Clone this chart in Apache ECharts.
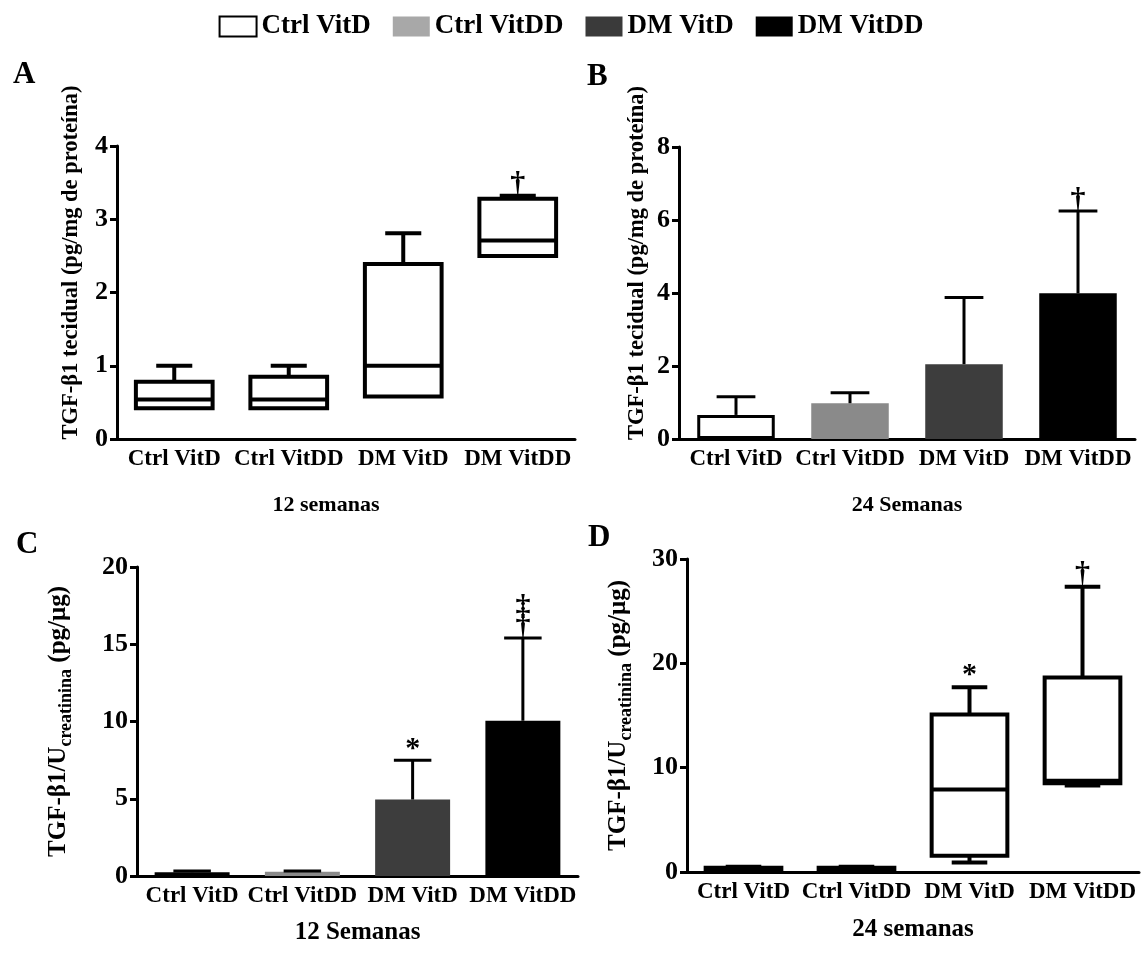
<!DOCTYPE html>
<html>
<head>
<meta charset="utf-8">
<script src="https://cdn.jsdelivr.net/npm/echarts@6/dist/echarts.min.js"></script>
<style>
  html, body { margin: 0; padding: 0; background: #fff; }
  #chart { width: 1142px; height: 954px; }
</style>
</head>
<body>
<div id="chart"></div>
<script>
// grupos
const categories = ['Ctrl VitD', 'Ctrl VitDD', 'DM VitD', 'DM VitDD'];
const groupColors = ['#ffffff', '#8a8a8a', '#3d3d3d', '#000000'];
const legendColors = ['#ffffff', '#a8a8a8', '#3a3a3a', '#000000'];

// A - TGF-b1 tecidual, 12 semanas: [min, Q1, mediana, Q3, max]
const boxA = [
  [0.42, 0.42, 0.54, 0.78, 1.00],
  [0.42, 0.42, 0.54, 0.85, 1.00],
  [0.58, 0.58, 1.00, 2.39, 2.81],
  [2.50, 2.50, 2.71, 3.28, 3.32]
];
const marksA = ['', '', '', '†'];

// B - TGF-b1 tecidual, 24 semanas: media e desvio
const meanB = [0.66, 0.98, 2.05, 3.99];
const sdB = [0.50, 0.29, 1.83, 2.26];
const marksB = ['', '', '', '†'];

// C - TGF-b1/U creatinina, 12 semanas
const meanC = [0.25, 0.27, 4.95, 10.05];
const sdC = [0.07, 0.05, 2.55, 5.35];
const marksC = ['', '', '*', '‡\n†'];

// D - TGF-b1/U creatinina, 24 semanas: [min, Q1, mediana, Q3, max]
const boxD = [
  [0.10, 0.15, 0.25, 0.40, 0.50],
  [0.10, 0.15, 0.25, 0.40, 0.50],
  [0.90, 1.55, 7.90, 15.10, 17.70],
  [8.30, 8.50, 8.75, 18.65, 27.35]
];
const marksD = ['', '', '*', '†'];

const FONT = '"Liberation Serif", "Times New Roman", serif';

const chart = echarts.init(document.getElementById('chart'));

function markText(text, x, y) {
  return {
    type: 'text',
    style: {
      text: text, x: x, y: y, align: 'center', verticalAlign: 'bottom',
      fontSize: 30, fontWeight: 'bold', fontFamily: FONT, fill: '#000', lineHeight: 20
    }
  };
}

function boxRender(marks) {
  return function (params, api) {
    const i = api.value(0);
    const v = [1, 2, 3, 4, 5].map(d => api.value(d));
    const p = v.map(val => api.coord([i, val]));
    const cx = p[0][0];
    const bw = api.size([1, 0])[0] * 0.67;
    const cap = bw * 0.47;
    const ls = { stroke: '#000', lineWidth: 4 };
    const ch = [];
    if (v[4] > v[3]) {
      ch.push({ type: 'line', shape: { x1: cx, y1: p[3][1], x2: cx, y2: p[4][1] }, style: ls });
      ch.push({ type: 'line', shape: { x1: cx - cap / 2, y1: p[4][1], x2: cx + cap / 2, y2: p[4][1] }, style: ls });
    }
    if (v[0] < v[1]) {
      ch.push({ type: 'line', shape: { x1: cx, y1: p[1][1], x2: cx, y2: p[0][1] }, style: ls });
      ch.push({ type: 'line', shape: { x1: cx - cap / 2, y1: p[0][1], x2: cx + cap / 2, y2: p[0][1] }, style: ls });
    }
    ch.push({
      type: 'rect',
      shape: { x: cx - bw / 2, y: p[3][1], width: bw, height: p[1][1] - p[3][1] },
      style: { fill: '#fff', stroke: '#000', lineWidth: 4 }
    });
    ch.push({ type: 'line', shape: { x1: cx - bw / 2, y1: p[2][1], x2: cx + bw / 2, y2: p[2][1] }, style: ls });
    const m = marks[params.dataIndex];
    if (m) ch.push(markText(m, cx, Math.min(p[4][1], p[3][1]) - 2));
    return { type: 'group', children: ch };
  };
}

function errRender(marks) {
  return function (params, api) {
    const i = api.value(0);
    const a = api.coord([i, api.value(1)]);
    const b = api.coord([i, api.value(2)]);
    const cap = api.size([1, 0])[0] * 0.34;
    const ls = { stroke: '#000', lineWidth: 3 };
    const ch = [
      { type: 'line', shape: { x1: a[0], y1: a[1], x2: b[0], y2: b[1] }, style: ls },
      { type: 'line', shape: { x1: b[0] - cap / 2, y1: b[1], x2: b[0] + cap / 2, y2: b[1] }, style: ls }
    ];
    const m = marks[params.dataIndex];
    if (m) ch.push(markText(m, b[0], b[1] - 1));
    return { type: 'group', children: ch };
  };
}

const grids = [
  { left: 117, top: 146, width: 458, height: 293 },
  { left: 679, top: 147, width: 456, height: 292 },
  { left: 137, top: 567, width: 441, height: 309 },
  { left: 687, top: 559, width: 452, height: 313 }
];

const yTitleTissue = 'TGF-β1 tecidual (pg/mg de proteína)';
const yTitleUrine = '{a|TGF-β1/U}{b|creatinina}{a| (pg/μg)}';

function xAxis(idx, name, gap, pad, size) {
  return {
    type: 'category', gridIndex: idx, data: categories,
    name: name, nameLocation: 'middle', nameGap: gap,
    nameTextStyle: { fontSize: size, fontWeight: 'bold', fontFamily: FONT, color: '#000', padding: pad },
    axisLine: { lineStyle: { color: '#000', width: 3 } },
    axisTick: { alignWithLabel: true, length: 8, lineStyle: { color: '#000', width: 3 } },
    axisLabel: { interval: 0, margin: 9, fontSize: 23, fontWeight: 'bold', fontFamily: FONT, color: '#000' },
    splitLine: { show: false }
  };
}

function yAxis(idx, max, interval, name, gap, pad) {
  return {
    type: 'value', gridIndex: idx, min: 0, max: max, interval: interval,
    name: name, nameLocation: 'middle', nameGap: gap,
    nameTextStyle: {
      fontSize: 22.5, fontWeight: 'bold', fontFamily: FONT, color: '#000', padding: pad,
      rich: {
        a: { fontSize: 25, fontWeight: 'bold', fontFamily: FONT, color: '#000', lineHeight: 32, verticalAlign: 'middle' },
        b: { fontSize: 18, fontWeight: 'bold', fontFamily: FONT, color: '#000', lineHeight: 32, verticalAlign: 'bottom' }
      }
    },
    axisLine: { show: true, lineStyle: { color: '#000', width: 3 } },
    axisTick: { show: true, length: 7, lineStyle: { color: '#000', width: 3 } },
    axisLabel: { margin: 9, fontSize: 26, fontWeight: 'bold', fontFamily: FONT, color: '#000' },
    splitLine: { show: false }
  };
}

function barSeries(idx, means) {
  return categories.map((c, i) => ({
    name: c, type: 'bar', xAxisIndex: idx, yAxisIndex: idx,
    data: means.map((v, j) => (j === i ? v : '-')),
    barWidth: '68%', barGap: '-100%',
    itemStyle: { color: groupColors[i], borderColor: '#000', borderWidth: i === 0 ? 3 : 0 },
    emphasis: { disabled: true }
  }));
}

const option = {
  animation: false,
  backgroundColor: '#fff',
  legend: {
    top: 8, left: 'center',
    data: categories.map((c, i) => ({
      name: c, icon: 'rect',
      itemStyle: { color: legendColors[i], borderColor: '#000', borderWidth: i === 0 ? 2 : 0 }
    })),
    itemWidth: 37, itemHeight: 20, itemGap: 22,
    textStyle: { fontSize: 27, fontWeight: 'bold', fontFamily: FONT, color: '#000' },
    selectedMode: false
  },
  graphic: [
    { type: 'text', left: 13, top: 59, style: { text: 'A', fontSize: 31, fontWeight: 'bold', fontFamily: FONT, fill: '#000' } },
    { type: 'text', left: 587, top: 61, style: { text: 'B', fontSize: 31, fontWeight: 'bold', fontFamily: FONT, fill: '#000' } },
    { type: 'text', left: 16, top: 529, style: { text: 'C', fontSize: 31, fontWeight: 'bold', fontFamily: FONT, fill: '#000' } },
    { type: 'text', left: 588, top: 522, style: { text: 'D', fontSize: 31, fontWeight: 'bold', fontFamily: FONT, fill: '#000' } }
  ],
  grid: grids,
  xAxis: [
    xAxis(0, '12 semanas', 55, [0, 40, 0, 0], 22),
    xAxis(1, '24 Semanas', 55, [0, 0, 0, 0], 22),
    xAxis(2, '12 Semanas', 44, [0, 0, 0, 0], 25),
    xAxis(3, '24 semanas', 45, [0, 0, 0, 0], 25)
  ],
  yAxis: [
    yAxis(0, 4, 1, yTitleTissue, 34, [0, 0, 0, 60]),
    yAxis(1, 8, 2, yTitleTissue, 30, [0, 0, 0, 60]),
    yAxis(2, 20, 5, yTitleUrine, 62, [0, 0, 0, 0]),
    yAxis(3, 30, 10, yTitleUrine, 52, [0, 0, 0, 0])
  ],
  series: [
    {
      type: 'custom', name: 'boxA', xAxisIndex: 0, yAxisIndex: 0, z: 3,
      renderItem: boxRender(marksA),
      encode: { x: 0, y: [1, 2, 3, 4, 5] },
      data: boxA.map((b, i) => [i].concat(b))
    },
    ...barSeries(1, meanB),
    {
      type: 'custom', name: 'errB', xAxisIndex: 1, yAxisIndex: 1, z: 3,
      renderItem: errRender(marksB),
      encode: { x: 0, y: [1, 2] },
      data: meanB.map((m, i) => [i, m, m + sdB[i]])
    },
    ...barSeries(2, meanC),
    {
      type: 'custom', name: 'errC', xAxisIndex: 2, yAxisIndex: 2, z: 3,
      renderItem: errRender(marksC),
      encode: { x: 0, y: [1, 2] },
      data: meanC.map((m, i) => [i, m, m + sdC[i]])
    },
    {
      type: 'custom', name: 'boxD', xAxisIndex: 3, yAxisIndex: 3, z: 3,
      renderItem: boxRender(marksD),
      encode: { x: 0, y: [1, 2, 3, 4, 5] },
      data: boxD.map((b, i) => [i].concat(b))
    }
  ]
};

chart.setOption(option);
</script>
</body>
</html>
